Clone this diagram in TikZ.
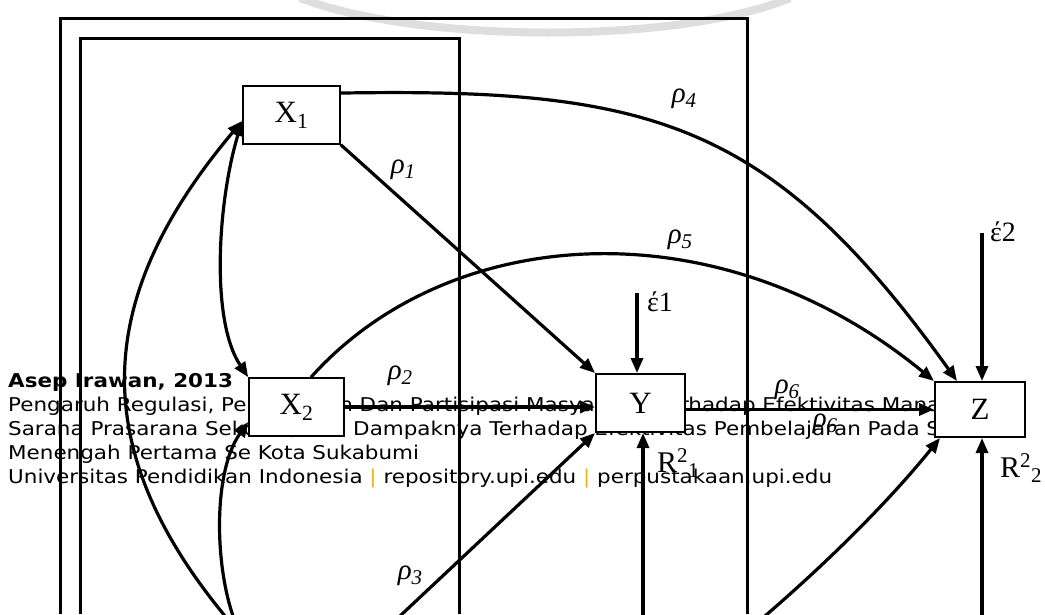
\documentclass[tikz,border=0pt]{standalone}
\usepackage{fontspec}
\setmainfont{Liberation Serif}
\newfontfamily\wmfont[FakeStretch=1.13]{DejaVu Sans}
\usetikzlibrary{arrows.meta}
\definecolor{wmgold}{HTML}{F5B400}
\definecolor{wmgray}{HTML}{DEDEDE}
\newcommand{\rsub}[1]{{\fontsize{21}{21}\selectfont\raisebox{-5pt}{#1}}}
\tikzset{
  box/.style={draw, line width=1.6pt, fill=white, inner sep=0pt, font=\fontsize{31}{31}\selectfont},
  arr/.style={line width=3.2pt, -{Triangle[length=15pt,width=12pt]}},
  darr/.style={line width=3.2pt, {Triangle[length=15pt,width=12pt]}-{Triangle[length=15pt,width=12pt]}},
  frame/.style={line width=3pt},
  rho/.style={font=\itshape\fontsize{29}{29}\selectfont, inner sep=0pt},
  eps/.style={font=\fontsize{28}{28}\selectfont, inner sep=0pt, anchor=base west},
  rsq/.style={font=\fontsize{30}{30}\selectfont, inner sep=0pt, anchor=base west},
  wm/.style={font=\wmfont\fontsize{19}{23}\selectfont, inner sep=0pt, anchor=base west},
}
\begin{document}
\begin{tikzpicture}[x=1pt,y=-1pt]
\useasboundingbox (0,0) rectangle (1045,614);
% faint watermark arc
\draw[wmgray, line width=8pt] (300,-2) .. controls (420,44) and (680,44) .. (790,-2);
% watermark text
\node[wm] (w1) at (8,387) {\bfseries Asep Irawan, 2013};
\node[wm] (w2) at (8,411) {Pengaruh Regulasi, Pembiayaan Dan Partisipasi Masyarakat Terhadap Efektivitas Manajemen};
\node[wm] (w3) at (8,435) {Sarana Prasarana Sekolah, Dan Dampaknya Terhadap Efektivitas Pembelajaran Pada Sekolah};
\node[wm] (w4) at (8,459) {Menengah Pertama Se Kota Sukabumi};
\node[wm] (w5) at (8,483) {Universitas Pendidikan Indonesia {\color{wmgold}|} repository.upi.edu {\color{wmgold}|} perpustakaan.upi.edu};
% boxes
\node[box, minimum width=97pt, minimum height=58pt] (X1) at (291.5,115) {X\textsubscript{1}};
\node[box, minimum width=95pt, minimum height=58pt] (X2) at (296.5,407) {X\textsubscript{2}};
\node[box, line width=2pt, minimum width=89pt, minimum height=58pt] (Y) at (640.5,403) {Y};
\node[box, line width=2pt, minimum width=90pt, minimum height=55pt] (Z) at (980,409.5) {Z};
% frames
\coordinate (o1) at (60,614); \coordinate (o2) at (60,18); \coordinate (o3) at (747,18); \coordinate (o4) at (747,614);
\coordinate (i1) at (80,614); \coordinate (i2) at (80,38); \coordinate (i3) at (459,38); \coordinate (i4) at (459,614);
\draw[frame] (o1) -- (o2) -- (o3) -- (o4);
\draw[frame] (i1) -- (i2) -- (i3) -- (i4);
% free ends
\coordinate (e1) at (637,293);
\coordinate (e2) at (982,233);
\coordinate (b1) at (643,616);
\coordinate (b2) at (982,616);
\coordinate (b3) at (765,616);
\coordinate (b4) at (400,616);
\coordinate (b5) at (225,616);
\coordinate (b6) at (233,616);
% connectors
\draw[arr] (X1.south east) -- (Y.north west);
\draw[arr] (X2.east) -- (X2.east -| Y.west);
\draw[arr] (Y.east |- Z.west) -- (Z.west);
\draw[arr] (b4) -- (Y.south west);
\draw[arr] (X1.24) .. controls (650,88) and (770,120) .. ([xshift=23pt]Z.north west);
\draw[arr] ([xshift=14.5pt]X2.north) .. controls (450,222) and (720,205) .. (Z.north west);
\draw[arr] (e1) -- (e1 |- Y.north);
\draw[arr] (e2) -- (e2 |- Z.north);
\draw[arr] (b1) -- (b1 |- Y.south);
\draw[arr] (b2) -- (b2 |- Z.south);
\draw[arr] (b3) .. controls (830,560) and (890,500) .. ([xshift=6pt]Z.south west);
\draw[arr] (b5) .. controls (80,440) and (100,290) .. ([yshift=-6pt]X1.west);
\draw[darr] ([yshift=-6pt]X1.west) .. controls (218,200) and (210,320) .. (X2.north west);
\draw[arr] (b6) .. controls (214,560) and (214,470) .. ([yshift=-15pt]X2.west);
% labels
\node[rho] (r1) at (403,170) {ρ\rsub{1}};
\node[rho] (r2) at (400,376) {ρ\rsub{2}};
\node[rho] (r3) at (410,576) {ρ\rsub{3}};
\node[rho] (r4) at (684,99) {ρ\rsub{4}};
\node[rho] (r5) at (680,240) {ρ\rsub{5}};
\node[rho] (r6a) at (787,390) {ρ\rsub{6}};
\node[rho] (r6b) at (825,424) {ρ\rsub{6}};
\node[eps] (t1) at (647,311) {έ1};
\node[eps] (t2) at (990,241) {έ2};
\node[rsq] (q1) at (657,472) {R\textsuperscript{2}\textsubscript{1}};
\node[rsq] (q2) at (1000,477) {R\textsuperscript{2}\textsubscript{2}};
\end{tikzpicture}
\end{document}
